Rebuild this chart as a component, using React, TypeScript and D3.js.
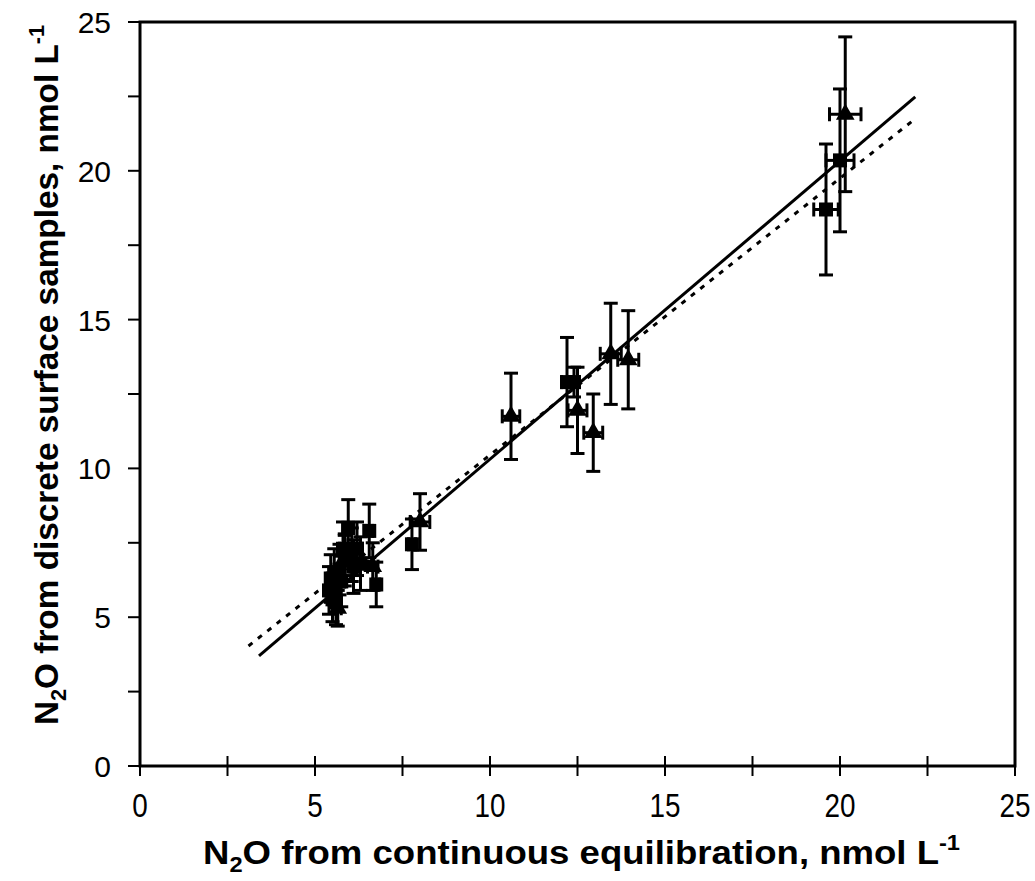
import { useEffect, useRef } from "react";
import * as d3 from "d3";

// squares: x, y, x-error, y-error
const sqX = [19.6, 20.0, 12.2, 12.4, 7.77, 5.95, 6.55, 6.2, 6.05, 5.85, 6.1, 5.7, 5.55, 5.45, 5.75, 5.4, 5.5, 5.6, 6.75, 5.8, 6.3];
const sqY = [18.7, 20.35, 12.9, 12.9, 7.45, 8.0, 7.9, 7.3, 7.1, 6.9, 6.7, 6.6, 6.5, 6.3, 6.2, 5.9, 5.6, 5.5, 6.1, 7.3, 6.8];
const sqXe = [0.35, 0.4, 0.15, 0.15, 0.1, 0.15, 0.1, 0.15, 0.1, 0.1, 0.1, 0.1, 0.1, 0.1, 0.1, 0.1, 0.1, 0.1, 0.1, 0.1, 0.1];
const sqYe = [2.2, 2.4, 1.5, 0.5, 0.85, 0.95, 0.9, 0.9, 0.9, 0.85, 0.9, 0.85, 0.8, 0.8, 0.85, 0.8, 0.75, 0.75, 0.75, 0.9, 0.9];

// triangles: x, y, x-error, y-error
const trX = [20.15, 13.45, 13.95, 12.5, 12.95, 10.6, 8.0, 6.65, 5.65, 5.85];
const trY = [21.9, 13.85, 13.65, 11.95, 11.2, 11.75, 8.2, 6.7, 5.3, 7.0];
const trXe = [0.45, 0.3, 0.3, 0.27, 0.27, 0.25, 0.28, 0.15, 0.1, 0.1];
const trYe = [2.6, 1.7, 1.65, 1.45, 1.3, 1.45, 0.95, 0.8, 0.6, 0.8];

// regression lines: [x0, x1], slope, intercept
const solidFit = { x: [3.4, 22.15], slope: 1.002, intercept: 0.29 };
const dottedFit = { x: [3.1, 22.1], slope: 0.93, intercept: 1.15 };

const xTicks = [0, 5, 10, 15, 20, 25];
const yTicks = [0, 5, 10, 15, 20, 25];
const minorStep = 2.5;

const App = () => {
  const ref = useRef<SVGSVGElement>(null);

  useEffect(() => {
    const el = ref.current;
    if (!el) return;
    const svg = d3.select(el);
    svg.selectAll("*").remove();

    const left = 140, right = 1015, top = 22, bottom = 766;
    const x = d3.scaleLinear().domain([0, 25]).range([left, right]);
    const y = d3.scaleLinear().domain([0, 25]).range([bottom, top]);
    const ink = "#000";
    const font = "'Liberation Sans', Arial, sans-serif";

    // ── Frame ────────────────────────────────────────────
    svg.append("rect")
      .attr("x", left).attr("y", top)
      .attr("width", right - left).attr("height", bottom - top)
      .attr("fill", "none").attr("stroke", ink).attr("stroke-width", 3);

    // ── Ticks ────────────────────────────────────────────
    const minor = d3.range(0, 25.001, minorStep);
    svg.append("g").selectAll("line").data(minor).enter().append("line")
      .attr("x1", d => x(d)).attr("x2", d => x(d))
      .attr("y1", bottom - 10).attr("y2", bottom + 10)
      .attr("stroke", ink).attr("stroke-width", 2);
    svg.append("g").selectAll("line").data(minor).enter().append("line")
      .attr("y1", d => y(d)).attr("y2", d => y(d))
      .attr("x1", left - 12).attr("x2", left)
      .attr("stroke", ink).attr("stroke-width", 2);

    // ── Tick labels ──────────────────────────────────────
    svg.append("g").selectAll("text").data(xTicks).enter().append("text")
      .attr("transform", d => `translate(${x(d)},${bottom + 51}) scale(0.82,1)`)
      .attr("text-anchor", "middle")
      .style("font-family", font)
      .style("font-size", "34px")
      .attr("fill", ink)
      .text(d => d);
    svg.append("g").selectAll("text").data(yTicks).enter().append("text")
      .attr("x", 111).attr("y", d => y(d) + 11)
      .attr("text-anchor", "end")
      .style("font-family", font)
      .style("font-size", "30px")
      .attr("fill", ink)
      .text(d => d);

    // ── Regression lines ─────────────────────────────────
    const line = d3.line<number>().x(d => x(d));
    svg.append("path")
      .attr("d", line.y(d => y(solidFit.slope * d + solidFit.intercept))(solidFit.x))
      .attr("stroke", ink).attr("stroke-width", 3).attr("fill", "none");
    svg.append("path")
      .attr("d", line.y(d => y(dottedFit.slope * d + dottedFit.intercept))(dottedFit.x))
      .attr("stroke", ink).attr("stroke-width", 3).attr("fill", "none")
      .attr("stroke-dasharray", "5,7");

    // ── Error bars + markers ─────────────────────────────
    const cap = 7;
    const drawErr = (xs: number[], ys: number[], xe: number[], ye: number[]) => {
      const g = svg.append("g").attr("stroke", ink).attr("stroke-width", 3);
      xs.forEach((xv, i) => {
        const cx = x(xv), cy = y(ys[i]);
        const y0 = y(ys[i] - ye[i]), y1 = y(ys[i] + ye[i]);
        const x0 = x(xv - xe[i]), x1 = x(xv + xe[i]);
        g.append("line").attr("x1", cx).attr("x2", cx).attr("y1", y0).attr("y2", y1);
        g.append("line").attr("x1", cx - cap).attr("x2", cx + cap).attr("y1", y0).attr("y2", y0);
        g.append("line").attr("x1", cx - cap).attr("x2", cx + cap).attr("y1", y1).attr("y2", y1);
        g.append("line").attr("x1", x0).attr("x2", x1).attr("y1", cy).attr("y2", cy);
        g.append("line").attr("x1", x0).attr("x2", x0).attr("y1", cy - cap).attr("y2", cy + cap);
        g.append("line").attr("x1", x1).attr("x2", x1).attr("y1", cy - cap).attr("y2", cy + cap);
      });
    };
    drawErr(sqX, sqY, sqXe, sqYe);
    drawErr(trX, trY, trXe, trYe);

    const sq = d3.symbol().type(d3.symbolSquare).size(196);
    svg.append("g").selectAll("path").data(sqX).enter().append("path")
      .attr("d", sq())
      .attr("transform", (d, i) => `translate(${x(d)},${y(sqY[i])})`)
      .attr("fill", ink);
    const tr = d3.symbol().type(d3.symbolTriangle).size(150);
    svg.append("g").selectAll("path").data(trX).enter().append("path")
      .attr("d", tr())
      .attr("transform", (d, i) => `translate(${x(d)},${y(trY[i])})`)
      .attr("fill", ink);

    // ── Axis titles ──────────────────────────────────────
    const xt = svg.append("text")
      .attr("x", 203).attr("y", 864)
      .attr("textLength", 757).attr("lengthAdjust", "spacingAndGlyphs")
      .style("font-family", font).style("font-size", "34px").style("font-weight", "700")
      .attr("fill", ink);
    xt.append("tspan").text("N");
    xt.append("tspan").attr("dy", 8).style("font-size", "22px").text("2");
    xt.append("tspan").attr("dy", -8).text("O from continuous equilibration, nmol L");
    xt.append("tspan").attr("dy", -14).style("font-size", "22px").text("-1");

    const yt = svg.append("text")
      .attr("transform", "translate(58,725) rotate(-90)")
      .attr("textLength", 700).attr("lengthAdjust", "spacingAndGlyphs")
      .style("font-family", font).style("font-size", "34px").style("font-weight", "700")
      .attr("fill", ink);
    yt.append("tspan").text("N");
    yt.append("tspan").attr("dy", 8).style("font-size", "22px").text("2");
    yt.append("tspan").attr("dy", -8).text("O from discrete surface samples, nmol L");
    yt.append("tspan").attr("dy", -14).style("font-size", "22px").text("-1");

    return () => { svg.selectAll("*").remove(); };
  }, []);

  return (
    <svg ref={ref} width={1035} height={881}
      style={{ position: "absolute", left: 0, top: 0, background: "#fff", display: "block" }} />
  );
};

export default App;
